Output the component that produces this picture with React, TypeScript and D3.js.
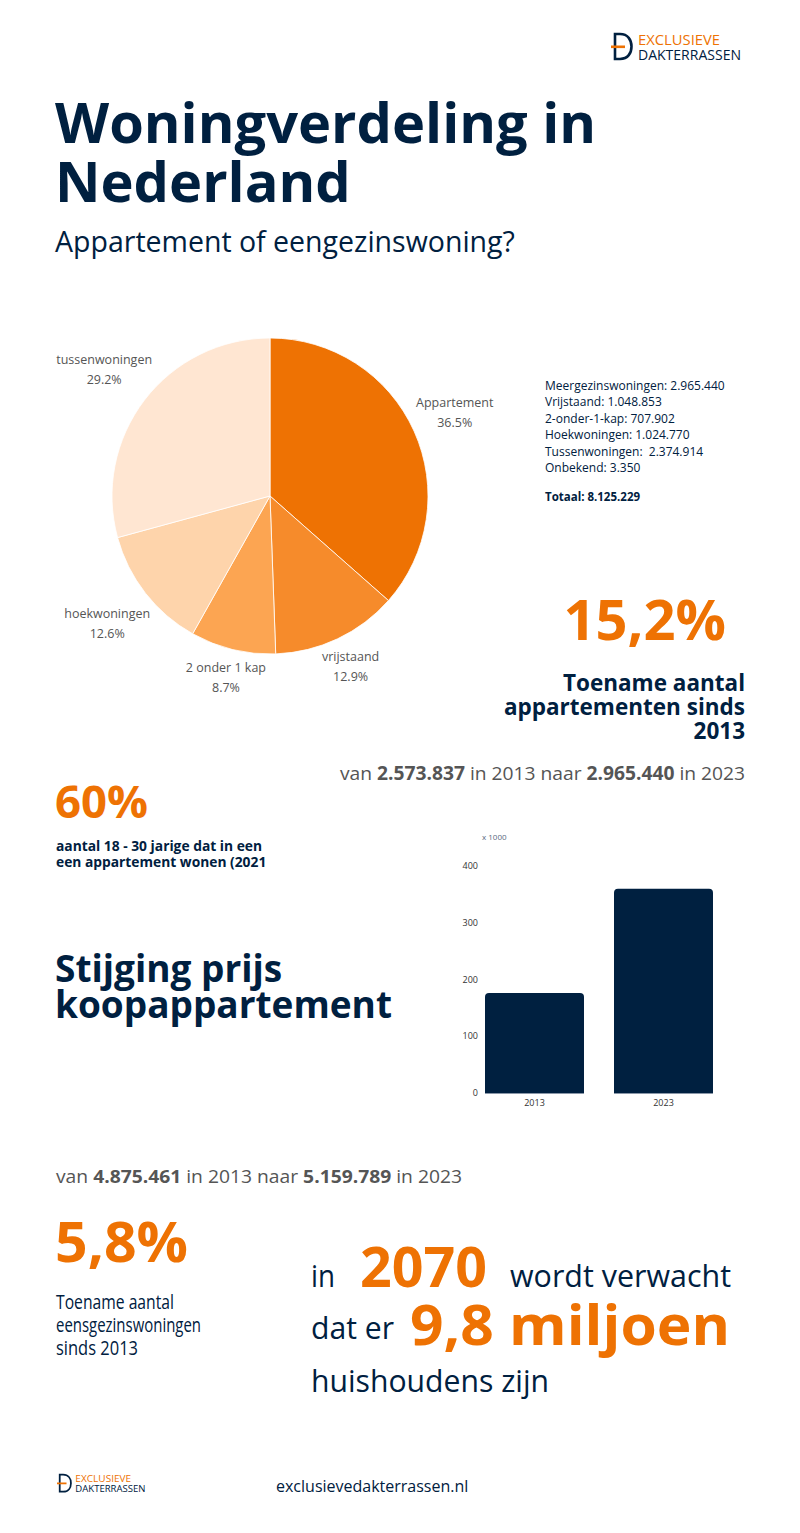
import React from "react";
import * as d3 from "d3";

const NAVY = "#002040";
const ORANGE = "#EE7203";
const GRAY = "#555555";
const FONT = "'Open Sans', sans-serif";

// Pie data
const pieCategories = ["Appartement", "vrijstaand", "2 onder 1 kap", "hoekwoningen", "tussenwoningen"];
const pieValues = [2965440, 1048853, 707902, 1024770, 2374914];
const pieColors = ["#EE7203", "#F68B2B", "#FCA552", "#FED4AB", "#FFE6D2"];

// Legend lines
const legendLines = [
  "Meergezinswoningen: 2.965.440",
  "Vrijstaand: 1.048.853",
  "2-onder-1-kap: 707.902",
  "Hoekwoningen: 1.024.770",
  "Tussenwoningen:  2.374.914",
  "Onbekend: 3.350",
];
const legendTotal = "Totaal: 8.125.229";

// Bar data (x 1000)
const barYears = ["2013", "2023"];
const barValues = [176, 360];
const yTicks = [0, 100, 200, 300, 400];

function Logo({ x, y, s }: { x: number; y: number; s: number }) {
  return (
    <g transform={`translate(${x},${y}) scale(${s})`}>
      <path d="M4,1 L4,26 L9,26 C17,26 20.5,20 20.5,13.5 C20.5,7 17,1 9,1 Z" fill="none" stroke={NAVY} strokeWidth={2.6} />
      <rect x={0} y={12.5} width={14} height={2.6} fill={ORANGE} />
      <text x={27} y={12} fontFamily={FONT} fontSize={14} fill={ORANGE} textLength={82} lengthAdjust="spacingAndGlyphs">EXCLUSIEVE</text>
      <text x={27} y={26.5} fontFamily={FONT} fontSize={14} fill={NAVY} textLength={103} lengthAdjust="spacingAndGlyphs">DAKTERRASSEN</text>
    </g>
  );
}

export default function App() {
  // Pie
  const cx = 270, cy = 496, r = 158;
  const total = d3.sum(pieValues);
  const pie = d3.pie<number>().sort(null).value((d) => d);
  const arcs = pie(pieValues);
  const arcGen = d3.arc<d3.PieArcDatum<number>>().innerRadius(0).outerRadius(r);
  const labelWidths = [80, 58, 82, 92, 97];
  const labelH = 40;

  // Bars
  const yScale = d3.scaleLinear().domain([0, 400]).range([1093, 866]);
  const xScale = d3.scaleBand<string>().domain(barYears).range([470, 728]).paddingInner(0.2326).paddingOuter(0.1163);
  const bw = xScale.bandwidth();
  const rr = 4;

  return (
    <svg width={800} height={1533} style={{ position: "absolute", left: 0, top: 0, background: "#fff" }} fontFamily={FONT}>
      <rect width={800} height={1533} fill="#fff" />
      <Logo x={611} y={33} s={1} />

      <text x={55} y={143} fontSize={56} fontWeight={700} fill={NAVY}>Woningverdeling in</text>
      <text x={55} y={202} fontSize={56} fontWeight={700} fill={NAVY}>Nederland</text>
      <text x={55} y={252} fontSize={28.5} fill={NAVY}>Appartement of eengezinswoning?</text>

      {/* Pie */}
      <g transform={`translate(${cx},${cy})`}>
        {arcs.map((a, i) => (
          <path key={i} d={arcGen(a) as string} fill={pieColors[i]} stroke="#fff" strokeWidth={0.8} />
        ))}
        {arcs.map((a, i) => {
          const m = (a.startAngle + a.endAngle) / 2;
          const s = Math.sin(m), c = Math.cos(m);
          const dist = r + Math.abs(s) * labelWidths[i] / 2 + Math.abs(c) * labelH / 2;
          const lx = dist * s;
          const ly = -dist * c;
          const pct = ((pieValues[i] / total) * 100).toFixed(1) + "%";
          return (
            <g key={"l" + i} fontSize={12.5} fill={GRAY} textAnchor="middle">
              <text x={lx} y={ly - 5.5}>{pieCategories[i]}</text>
              <text x={lx} y={ly + 14.5}>{pct}</text>
            </g>
          );
        })}
      </g>

      {/* Legend */}
      <g fontSize={12} fill={NAVY}>
        {legendLines.map((t, i) => (
          <text key={i} x={545} y={389.5 + i * 16.5} style={{ whiteSpace: "pre" }}>{t}</text>
        ))}
        <text x={545} y={501} fontWeight={700} fontSize={11.5}>{legendTotal}</text>
      </g>

      <text x={726} y={640} textAnchor="end" fontSize={56} fontWeight={700} fill={ORANGE}>15,2%</text>
      <g textAnchor="end" fontSize={22.5} fontWeight={700} fill={NAVY}>
        <text x={745} y={691}>Toename aantal</text>
        <text x={745} y={715}>appartementen sinds</text>
        <text x={745} y={739}>2013</text>
      </g>
      <text x={340} y={780} fontSize={19} fill={GRAY} textLength={405} lengthAdjust="spacingAndGlyphs">
        van <tspan fontWeight={700}>2.573.837</tspan> in 2013 naar <tspan fontWeight={700}>2.965.440</tspan> in 2023
      </text>

      <text x={55} y={818} fontSize={45.5} fontWeight={700} fill={ORANGE}>60%</text>
      <g fontSize={13.8} fontWeight={700} fill={NAVY}>
        <text x={56} y={851}>aantal 18 - 30 jarige dat in een</text>
        <text x={56} y={867}>een appartement wonen (2021</text>
      </g>

      <g fontSize={37} fontWeight={700} fill={NAVY}>
        <text x={55} y={982}>Stijging prijs</text>
        <text x={55} y={1018}>koopappartement</text>
      </g>

      {/* Bar chart */}
      <text x={482} y={840} fontSize={8} fill="#5a6a80">x 1000</text>
      {yTicks.map((t) => (
        <text key={t} x={478} y={yScale(t) + 3} textAnchor="end" fontSize={9} fill="#333">{t}</text>
      ))}
      {barYears.map((yr, i) => {
        const x0 = xScale(yr) as number;
        const y0 = yScale(barValues[i]);
        const y1 = yScale(0);
        const d = `M${x0},${y1} L${x0},${y0 + rr} Q${x0},${y0} ${x0 + rr},${y0} L${x0 + bw - rr},${y0} Q${x0 + bw},${y0} ${x0 + bw},${y0 + rr} L${x0 + bw},${y1} Z`;
        return (
          <g key={yr}>
            <path d={d} fill={NAVY} />
            <line x1={x0} x2={x0 + bw} y1={y1 + 0.5} y2={y1 + 0.5} stroke="#8a97a8" strokeWidth={1} />
            <text x={x0 + bw / 2} y={1106} textAnchor="middle" fontSize={9} fill="#333">{yr}</text>
          </g>
        );
      })}

      <text x={56} y={1183} fontSize={18} fill={GRAY} textLength={406} lengthAdjust="spacingAndGlyphs">
        van <tspan fontWeight={700}>4.875.461</tspan> in 2013 naar <tspan fontWeight={700}>5.159.789</tspan> in 2023
      </text>

      <text x={55} y={1262} fontSize={56} fontWeight={700} fill={ORANGE} textLength={133} lengthAdjust="spacingAndGlyphs">5,8%</text>
      <g fontSize={20} fill={NAVY}>
        <text x={56} y={1309} textLength={118} lengthAdjust="spacingAndGlyphs">Toename aantal</text>
        <text x={56} y={1332} textLength={145} lengthAdjust="spacingAndGlyphs">eensgezinswoningen</text>
        <text x={56} y={1355} textLength={82} lengthAdjust="spacingAndGlyphs">sinds 2013</text>
      </g>

      <text x={311} y={1287} fontSize={31} fill={NAVY} textLength={24} lengthAdjust="spacingAndGlyphs">in</text>
      <text x={360} y={1287} fontSize={56} fontWeight={700} fill={ORANGE} textLength={127} lengthAdjust="spacingAndGlyphs">2070</text>
      <text x={510} y={1287} fontSize={31} fill={NAVY} textLength={221} lengthAdjust="spacingAndGlyphs">wordt verwacht</text>
      <text x={311} y={1339} fontSize={31} fill={NAVY} textLength={83} lengthAdjust="spacingAndGlyphs">dat er</text>
      <text x={410} y={1345} fontSize={56} fontWeight={700} fill={ORANGE} textLength={320} lengthAdjust="spacingAndGlyphs">9,8 miljoen</text>
      <text x={311} y={1392} fontSize={31} fill={NAVY} textLength={238} lengthAdjust="spacingAndGlyphs">huishoudens zijn</text>

      <Logo x={57} y={1474} s={0.68} />
      <text x={276} y={1492} fontSize={16} fill={NAVY}>exclusievedakterrassen.nl</text>
    </svg>
  );
}
